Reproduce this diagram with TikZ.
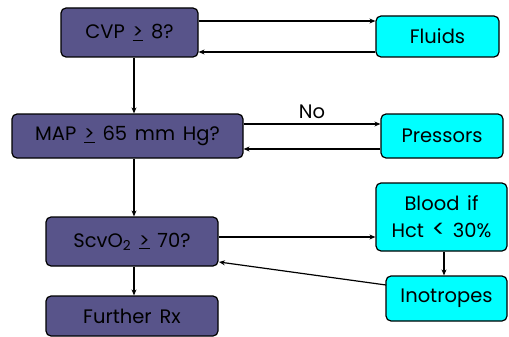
\documentclass[tikz,border=0pt]{standalone}
\usepackage{fontspec}
\setmainfont[WordSpace=1.5]{Poppins}
\usetikzlibrary{arrows.meta}
\definecolor{qbox}{RGB}{88,84,138}
\definecolor{tbox}{RGB}{0,255,255}
\newcommand{\bigtxt}{\fontsize{19.5}{23}\selectfont}
\begin{document}
\begin{tikzpicture}[x=1pt,y=-1pt,
  qnode/.style={draw=black,line width=1.2pt,rounded corners=5pt,fill=qbox,font=\bigtxt,inner sep=0pt},
  tnode/.style={draw=black,line width=1.2pt,rounded corners=5pt,fill=tbox,font=\bigtxt,inner sep=0pt,align=center},
  conn/.style={line width=1.2pt,-{Stealth[length=6pt,width=5pt]}}]
\useasboundingbox (0,0) rectangle (509,337);
\node[qnode,minimum width=137pt,minimum height=49pt] (cvp) at (129.5,32.5) {CVP \underline{>} 8?};
\node[tnode,minimum width=123pt,minimum height=41pt] (fluids) at (437.5,36.5) {Fluids};
\node[qnode,minimum width=231pt,minimum height=44pt] (map) at (127.5,136) {MAP \underline{>} 65 mm Hg?};
\node[tnode,minimum width=122pt,minimum height=44pt] (press) at (442,136) {Pressors};
\node[qnode,minimum width=172pt,minimum height=49pt] (scv) at (132,241.5) {ScvO\textsubscript{2} \underline{>} 70?};
\node[qnode,minimum width=172pt,minimum height=40pt] (rx) at (132,316) {Further Rx};
\node[tnode,minimum width=131pt,minimum height=68pt,font=\fontsize{19.5}{27}\selectfont] (blood) at (441.5,217) {Blood if\\Hct {\fontsize{24}{27}\selectfont<} 30\%};
\node[tnode,minimum width=121pt,minimum height=45pt] (ino) at (446.5,298.5) {Inotropes};
\draw[conn] (cvp.east |- 0,21) -- (fluids.west |- 0,21);
\draw[conn] (fluids.west |- 0,52) -- (cvp.east |- 0,52);
\draw[conn] (map.east |- 0,124) -- node[above=1pt,font=\bigtxt] {No} (press.west |- 0,124);
\draw[conn] (press.west |- 0,149) -- (map.east |- 0,149);
\draw[conn] (cvp.south -| 134,0) -- (map.north -| 134,0);
\draw[conn] (map.south -| 134,0) -- (scv.north -| 134,0);
\draw[conn] (scv.south -| 134,0) -- (rx.north -| 134,0);
\draw[conn] (scv.east |- 0,237) -- (blood.west |- 0,237);
\draw[conn] (blood.south -| 444,0) -- (ino.north -| 444,0);
\coordinate (inoA) at (386,285);
\coordinate (scvA) at (219,262);
\draw[conn] (inoA) -- (scvA);
\end{tikzpicture}
\end{document}
